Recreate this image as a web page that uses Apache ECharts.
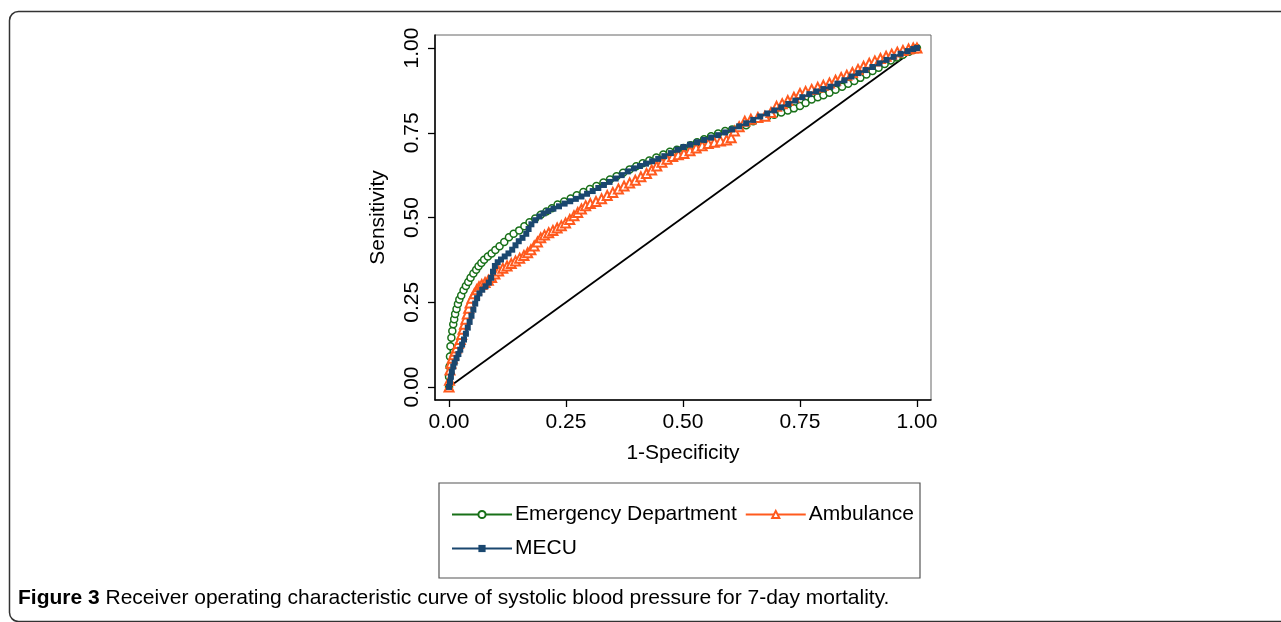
<!DOCTYPE html>
<html>
<head>
<meta charset="utf-8">
<script src="https://cdn.jsdelivr.net/npm/echarts@6/dist/echarts.min.js"></script>
<style>
html,body{margin:0;padding:0;background:#fff;}
#chart{width:1281px;height:622px;}
</style>
</head>
<body>
<div id="chart"></div>
<script>
const seriesNames = ['Emergency Department', 'Ambulance', 'MECU'];
const tickValues = [0, 0.25, 0.5, 0.75, 1];
const xAxisTitle = '1-Specificity';
const yAxisTitle = 'Sensitivity';
const captionBold = 'Figure 3';
const captionText = ' Receiver operating characteristic curve of systolic blood pressure for 7-day mortality.';

const edX = [0,0.000,0.001,0.002,0.003,0.005,0.007,0.009,0.011,0.013,0.016,0.019,0.022,0.026,0.031,0.036,0.041,0.046,0.052,0.058,0.063,0.069,0.075,0.083,0.091,0.099,0.108,0.118,0.128,0.138,0.150,0.161,0.172,0.184,0.196,0.208,0.220,0.232,0.246,0.260,0.273,0.287,0.301,0.315,0.330,0.344,0.358,0.372,0.386,0.400,0.414,0.428,0.443,0.458,0.472,0.487,0.501,0.516,0.530,0.545,0.560,0.575,0.590,0.605,0.620,0.635,0.650,0.665,0.680,0.695,0.710,0.724,0.737,0.750,0.762,0.775,0.788,0.800,0.813,0.826,0.840,0.853,0.866,0.879,0.892,0.905,0.918,0.931,0.944,0.957,0.970,0.983,0.993,1.000];
const edY = [0,0.03,0.06,0.09,0.12,0.145,0.165,0.185,0.20,0.215,0.23,0.245,0.258,0.27,0.285,0.298,0.31,0.322,0.335,0.346,0.356,0.366,0.375,0.385,0.394,0.404,0.415,0.428,0.442,0.452,0.462,0.474,0.486,0.497,0.508,0.518,0.527,0.538,0.547,0.556,0.566,0.575,0.584,0.593,0.603,0.612,0.622,0.632,0.642,0.651,0.660,0.668,0.677,0.686,0.694,0.700,0.705,0.713,0.722,0.731,0.740,0.748,0.755,0.760,0.765,0.772,0.784,0.792,0.797,0.803,0.810,0.816,0.822,0.829,0.838,0.848,0.855,0.861,0.868,0.877,0.886,0.895,0.903,0.912,0.922,0.932,0.942,0.953,0.963,0.972,0.980,0.989,0.995,1.000];

const ambX = [0,0.001,0.002,0.004,0.007,0.010,0.013,0.016,0.020,0.024,0.027,0.030,0.033,0.036,0.039,0.042,0.045,0.049,0.054,0.059,0.064,0.070,0.077,0.084,0.091,0.098,0.106,0.115,0.124,0.133,0.142,0.151,0.160,0.168,0.175,0.182,0.189,0.196,0.204,0.213,0.222,0.231,0.240,0.249,0.258,0.267,0.275,0.283,0.292,0.302,0.314,0.326,0.338,0.350,0.362,0.374,0.386,0.398,0.410,0.422,0.433,0.444,0.455,0.466,0.478,0.490,0.502,0.515,0.528,0.541,0.554,0.567,0.580,0.593,0.603,0.610,0.620,0.632,0.645,0.660,0.675,0.688,0.700,0.712,0.724,0.737,0.750,0.762,0.775,0.788,0.800,0.813,0.826,0.838,0.850,0.862,0.874,0.886,0.898,0.910,0.922,0.934,0.946,0.958,0.970,0.982,0.992,1.000];
const ambY = [0,0.02,0.05,0.07,0.085,0.095,0.105,0.115,0.128,0.140,0.155,0.170,0.185,0.200,0.215,0.232,0.248,0.262,0.275,0.287,0.296,0.302,0.308,0.315,0.323,0.333,0.342,0.350,0.357,0.364,0.372,0.380,0.388,0.396,0.405,0.416,0.428,0.440,0.448,0.455,0.462,0.469,0.476,0.484,0.494,0.505,0.515,0.525,0.535,0.541,0.547,0.555,0.565,0.574,0.584,0.593,0.602,0.610,0.620,0.630,0.640,0.652,0.663,0.672,0.680,0.685,0.689,0.697,0.705,0.712,0.718,0.722,0.726,0.729,0.735,0.755,0.768,0.784,0.790,0.795,0.799,0.810,0.828,0.836,0.845,0.855,0.866,0.872,0.878,0.884,0.890,0.897,0.905,0.913,0.920,0.928,0.937,0.946,0.955,0.962,0.969,0.976,0.982,0.988,0.993,0.997,1.000,1.000];

const mecuX = [0,0.002,0.004,0.006,0.009,0.012,0.016,0.020,0.024,0.028,0.032,0.036,0.040,0.044,0.048,0.052,0.056,0.060,0.065,0.071,0.078,0.085,0.090,0.094,0.098,0.104,0.111,0.119,0.127,0.135,0.142,0.149,0.157,0.165,0.170,0.176,0.184,0.193,0.202,0.212,0.223,0.235,0.247,0.259,0.271,0.283,0.295,0.307,0.319,0.331,0.343,0.356,0.369,0.382,0.395,0.408,0.421,0.434,0.447,0.460,0.474,0.488,0.501,0.515,0.530,0.545,0.560,0.575,0.590,0.605,0.620,0.635,0.650,0.665,0.680,0.695,0.710,0.725,0.740,0.755,0.770,0.785,0.800,0.815,0.830,0.845,0.860,0.875,0.890,0.905,0.920,0.935,0.950,0.965,0.980,0.992,1.000];
const mecuY = [0,0.015,0.03,0.045,0.06,0.072,0.085,0.097,0.110,0.125,0.140,0.157,0.175,0.192,0.210,0.228,0.246,0.262,0.276,0.287,0.297,0.308,0.322,0.340,0.357,0.368,0.376,0.385,0.394,0.405,0.418,0.430,0.440,0.452,0.466,0.480,0.492,0.503,0.512,0.519,0.526,0.533,0.541,0.548,0.555,0.562,0.570,0.578,0.587,0.596,0.605,0.615,0.625,0.636,0.645,0.652,0.659,0.666,0.673,0.681,0.690,0.700,0.708,0.715,0.722,0.729,0.736,0.743,0.751,0.760,0.769,0.778,0.788,0.798,0.807,0.816,0.825,0.835,0.845,0.855,0.864,0.872,0.879,0.886,0.895,0.905,0.916,0.926,0.935,0.944,0.955,0.965,0.974,0.983,0.991,0.997,1.000];

const refX = [0, 1];
const refY = [0, 1];

function pairs(xs, ys) { return xs.map((x, i) => [x, ys[i]]); }

const FONT = 'Liberation Sans, Arial, Helvetica, sans-serif';
const chart = echarts.init(document.getElementById('chart'), null, {renderer: 'canvas'});

const option = {
  backgroundColor: '#fff',
  animation: false,
  textStyle: {fontFamily: FONT, color: '#000'},
  grid: {left: 435, top: 35, width: 496, height: 365, show: true, borderColor: '#666', borderWidth: 1, containLabel: false},
  xAxis: {
    type: 'value', min: -0.03, max: 1.03,
    name: xAxisTitle, nameLocation: 'middle', nameGap: 43,
    nameTextStyle: {fontSize: 21, color: '#000', fontFamily: FONT},
    splitLine: {show: false},
    axisLine: {show: true, onZero: false, lineStyle: {color: '#000', width: 1.5}},
    axisTick: {show: true, length: 7, lineStyle: {color: '#000', width: 1.3}, customValues: tickValues},
    axisLabel: {fontSize: 21, color: '#000', margin: 12, fontFamily: FONT, customValues: tickValues, formatter: v => v.toFixed(2)}
  },
  yAxis: {
    type: 'value', min: -0.0385, max: 1.0385,
    name: yAxisTitle, nameLocation: 'middle', nameGap: 46, nameRotate: 90,
    nameTextStyle: {fontSize: 21, color: '#000', fontFamily: FONT},
    splitLine: {show: false},
    axisLine: {show: true, onZero: false, lineStyle: {color: '#000', width: 1.5}},
    axisTick: {show: true, length: 7, lineStyle: {color: '#000', width: 1.3}, customValues: tickValues},
    axisLabel: {fontSize: 21, color: '#000', margin: 12, rotate: 90, fontFamily: FONT, customValues: tickValues, formatter: v => v.toFixed(2)}
  },
  legend: [
    {
      data: [seriesNames[0], seriesNames[1]], left: 446, top: 499, orient: 'horizontal',
      itemWidth: 60, itemHeight: 9, itemGap: 8,
      textStyle: {fontSize: 21, color: '#000', fontFamily: FONT, padding: [0, 0, 0, -2]}
    },
    {
      data: [seriesNames[2]], left: 446, top: 533, orient: 'horizontal',
      itemWidth: 60, itemHeight: 9, itemGap: 8,
      textStyle: {fontSize: 21, color: '#000', fontFamily: FONT, padding: [0, 0, 0, -2]}
    }
  ],
  graphic: [
    {type: 'rect', shape: {x: 9.5, y: 11.5, width: 1400, height: 610, r: 9}, style: {fill: 'none', stroke: '#333', lineWidth: 1.5}, silent: true, z: -1},
    {type: 'rect', shape: {x: 439, y: 483, width: 481, height: 95}, style: {fill: 'none', stroke: '#555', lineWidth: 1.2}, silent: true},
    {type: 'text', left: 18, top: 588,
      style: {text: '{b|' + captionBold + '}{r|' + captionText + '}',
        rich: {b: {fontFamily: FONT, fontWeight: 'bold', fontSize: 21, fill: '#000'}, r: {fontFamily: FONT, fontSize: 21, fill: '#000'}}}}
  ],
  series: [
    {name: seriesNames[0], type: 'line', data: pairs(edX, edY), symbol: 'circle', symbolSize: 7, showAllSymbol: true,
      lineStyle: {color: '#187018', width: 1.5}, itemStyle: {color: '#fff', borderColor: '#187018', borderWidth: 1.5}, z: 3},
    {name: seriesNames[1], type: 'line', data: pairs(ambX, ambY), symbol: 'triangle', symbolSize: 9, showAllSymbol: true,
      lineStyle: {color: '#ff5a1e', width: 1.5}, itemStyle: {color: '#fff', borderColor: '#ff5a1e', borderWidth: 2}, z: 4},
    {name: seriesNames[2], type: 'line', data: pairs(mecuX, mecuY), symbol: 'rect', symbolSize: 6, showAllSymbol: true,
      lineStyle: {color: '#1a476f', width: 2}, itemStyle: {color: '#1a476f', borderColor: '#1a476f', borderWidth: 0}, z: 5},
    {name: 'ref', type: 'line', data: pairs(refX, refY), symbol: 'none', lineStyle: {color: '#000', width: 1.8}, z: 2}
  ]
};
chart.setOption(option);
</script>
</body>
</html>
